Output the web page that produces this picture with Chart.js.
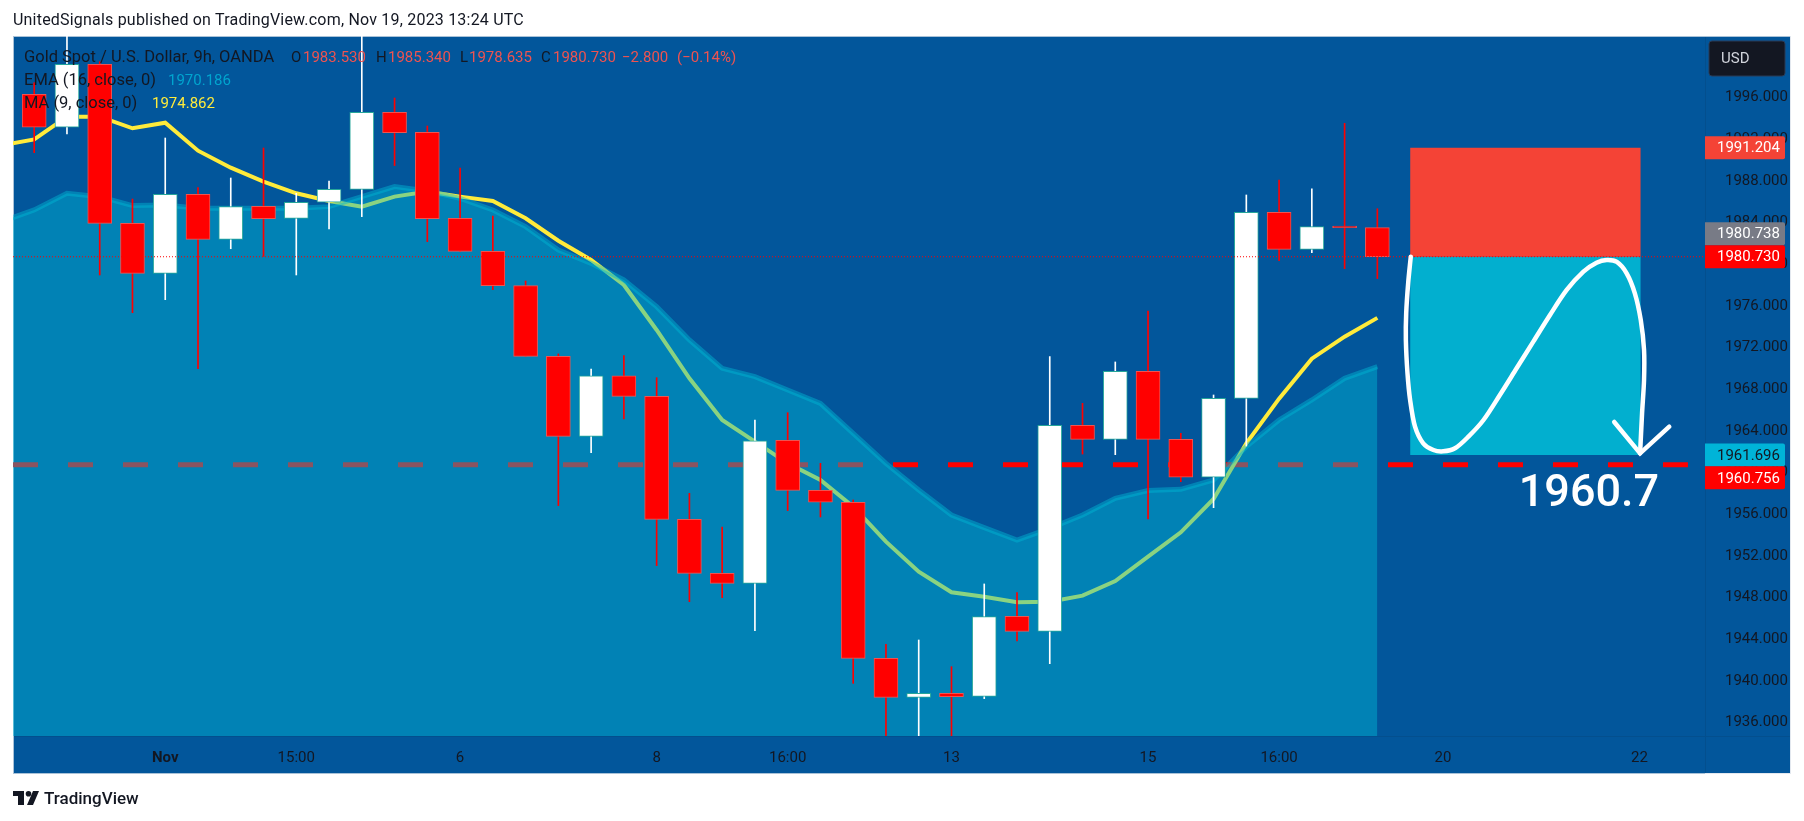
<!DOCTYPE html>
<html>
<head>
<meta charset="utf-8">
<title>Gold Spot / U.S. Dollar</title>
<script src="https://cdn.jsdelivr.net/npm/chart.js@4/dist/chart.umd.js"></script>
<style>
  body { margin: 0; background: #fff; width: 1804px; height: 821px; overflow: hidden; position: relative; font-family: Roboto, sans-serif; color: #131722; }
  canvas { position: absolute; left: 0; top: 0; }
  #head { position: absolute; left: 13px; top: 11px; font-size: 16px; letter-spacing: 0.2px; line-height: 18px; white-space: nowrap; }
  #foot { position: absolute; left: 13px; top: 789px; display: flex; align-items: center; }
  #foot span { font-size: 17px; font-weight: 500; margin-left: 5px; line-height: 18px; }
</style>
</head>
<body>
<canvas id="c" width="1804" height="821"></canvas>
<div id="head">UnitedSignals published on TradingView.com, Nov 19, 2023 13:24 UTC</div>
<div id="foot">
  <svg width="26" height="14" viewBox="0 0 26 14"><path d="M0 0h11v14H5V5H0z M26 0l-6 14h-6l6-14z" fill="#131722"/><circle cx="15.5" cy="2.8" r="2.8" fill="#131722"/></svg>
  <span>TradingView</span>
</div>
<script>
// ================= DATA =================
const opens  = [1996.32,1993.16,1999.20,1983.94,1979.14,1986.72,1982.40,1985.57,1984.42,1985.96,1987.20,1994.60,1992.68,1984.42,1981.25,1977.96,1971.17,1963.49,1969.31,1967.33,1955.52,1950.34,1949.38,1963.11,1958.31,1957.16,1942.18,1938.43,1938.82,1938.53,1946.21,1944.77,1964.55,1963.20,1969.73,1963.20,1959.56,1967.14,1985.00,1981.44,1983.68,1983.53];
const highs  = [1997.44,2003,1999.46,1986.27,1992.13,1987.36,1988.29,1991.17,1986.82,1988.00,2003,1995.97,1993.28,1989.25,1984.64,1978.40,1971.40,1969.95,1971.24,1969.12,1958.02,1954.79,1965.06,1965.76,1960.90,1957.38,1943.52,1943.94,1941.38,1949.32,1948.48,1971.14,1966.66,1970.63,1975.52,1963.78,1967.46,1986.66,1988.10,1987.24,1993.54,1985.34];
const lows   = [1990.72,1992.52,1978.98,1975.36,1976.61,1969.99,1981.50,1980.77,1978.98,1983.39,1984.58,1989.48,1982.18,1981.25,1977.57,1971.17,1956.84,1961.92,1965.16,1951.08,1947.62,1948.00,1944.83,1956.36,1955.75,1939.78,1934,1934,1934,1938.31,1943.84,1941.67,1961.79,1961.73,1955.56,1959.14,1956.64,1962.56,1980.36,1981.12,1979.59,1978.635];
const closes = [1993.16,1999.20,1983.94,1979.14,1986.72,1982.40,1985.54,1984.39,1985.96,1987.20,1994.60,1992.64,1984.39,1981.25,1977.96,1971.17,1963.49,1969.31,1967.33,1955.52,1950.34,1949.38,1963.07,1958.31,1957.16,1942.18,1938.43,1938.82,1938.50,1946.18,1944.77,1964.55,1963.20,1969.73,1963.20,1959.56,1967.14,1985.00,1981.44,1983.62,1983.52,1980.73];

// both averages start one bar before the first candle
const maValues  = [1991.43,1992.00,1994.18,1994.18,1993.06,1993.60,1990.91,1989.28,1987.94,1986.82,1986.08,1985.54,1986.50,1986.98,1986.50,1986.08,1984.42,1982.27,1980.42,1978.02,1973.70,1969.06,1965.06,1962.98,1960.90,1959.30,1956.74,1953.38,1950.50,1948.52,1948.10,1947.56,1947.62,1948.20,1949.60,1951.94,1954.28,1957.48,1962.82,1967.11,1970.95,1973.06,1974.862];
const emaValues = [1984.10,1985.22,1986.82,1986.50,1985.64,1985.70,1985.38,1985.38,1985.38,1985.38,1985.54,1986.50,1987.46,1987.04,1986.34,1985.22,1983.62,1981.38,1980.10,1978.50,1975.94,1972.74,1970.02,1969.22,1967.94,1966.66,1963.78,1960.90,1958.34,1955.94,1954.72,1953.54,1954.66,1955.94,1957.54,1958.28,1958.40,1959.30,1962.50,1965.06,1966.98,1969.06,1970.186];

const yTicks = [1996,1992,1988,1984,1980,1976,1972,1968,1964,1960,1956,1952,1948,1944,1940,1936];
const xTickBars = [4,8,13,19,23,28,34,38,43,49];
const xTickLabels = ['Nov','15:00','6','8','16:00','13','15','16:00','20','22'];

const stopPrice = 1991.204, entryPrice = 1980.73, targetPrice = 1961.696, supportPrice = 1960.756, lastBid = 1980.738;
const toolStart = 42, toolEnd = 49.04, supportEnd = 50.48;

const curveX = [42.02,41.94,41.88,41.87,41.92,42.00,42.15,42.40,42.71,43.01,43.37,43.78,44.24,44.74,45.25,45.76,46.27,46.78,47.29,47.69,48.00,48.31,48.61,48.86,49.04,49.14,49.14,49.08,49.02];
const curveY = [1980.74,1978.18,1975.30,1972.74,1969.54,1966.98,1964.42,1962.82,1962.18,1962.05,1962.34,1963.46,1965.06,1967.46,1970.02,1972.58,1975.14,1977.54,1979.30,1980.16,1980.42,1980.23,1979.14,1977.22,1974.66,1971.78,1968.90,1965.70,1961.86];
const arrowX = [48.23,49.02,49.91];
const arrowY = [1964.87,1961.86,1964.42];

const noteText = '1960.7', noteBar = 47.46, notePrice = 1957.92;

const legendTitle = ['Gold Spot / U.S. Dollar, 9h, OANDA','O','1983.530','H','1985.340','L','1978.635','C','1980.730','−2.800','(−0.14%)'];
const legendEma = ['EMA (16, close, 0)','1970.186'];
const legendMa = ['MA (9, close, 0)','1974.862'];

// ================= LAYOUT =================
const left = 13, top_ = 36, right = 1705, bottom = 736, panelRight = 1790, panelBottom = 773;
const barPx = 32.76, firstBarPx = 34.2, pxPerUnit = 10.417, y1936 = 722.7;
const font = 'Roboto, sans-serif';
const ink = '#131722', bg = '#02569b';
const cyan = 'rgba(0,184,212,0.46)';

const xy = (xs, ys) => xs.map((x, i) => ({ x, y: ys[i] }));
const flat = (v, a, b) => [{ x: a, y: v }, { x: b, y: v }];
const isUp = i => closes[i] >= opens[i];
const xMin = (left - firstBarPx) / barPx, xMax = (right - firstBarPx) / barPx;
const yMax = 1936 + (y1936 - top_) / pxPerUnit, yMin = 1936 + (y1936 - bottom) / pxPerUnit;

const lineBase = { type: 'line', pointRadius: 0, tension: 0, fill: false };

const panelPlugin = {
  id: 'panel',
  beforeDraw(chart) {
    const c = chart.ctx;
    c.save();
    c.fillStyle = bg;
    c.fillRect(left, top_, panelRight - left, panelBottom - top_);
    c.fillStyle = '#a9c2d8';
    c.fillRect(left, top_, panelRight - left, 1);
    c.fillRect(left, top_, 1, panelBottom - top_);
    c.fillRect(left, panelBottom, right - left, 1);
    c.fillStyle = '#e3e8ef';
    c.fillRect(panelRight, top_, 1, panelBottom - top_ + 1);
    c.fillRect(right, panelBottom, panelRight - right, 1);
    c.fillStyle = '#034f8e';
    c.fillRect(right, top_ + 1, 1, panelBottom - top_ - 1);
    c.fillRect(left + 1, bottom, panelRight - left - 1, 1);
    c.restore();
  }
};

const overlayPlugin = {
  id: 'overlay',
  afterDraw(chart) {
    const c = chart.ctx, ys = chart.scales.y, xs = chart.scales.x;
    c.save();
    c.textBaseline = 'middle';
    c.textAlign = 'left';

    // legend
    const red = '#ef5350';
    const title = [[24, ink], [291, ink], [303, red], [376, ink], [388, red], [460, ink], [469, red], [541, ink], [553, red], [622, red], [677, red]];
    legendTitle.forEach((t, i) => {
      c.font = (i === 0 ? '16.5px ' : '15px ') + font;
      c.fillStyle = title[i][1];
      c.fillText(t, title[i][0], 58);
    });
    c.font = '16.5px ' + font;
    c.fillStyle = ink; c.fillText(legendEma[0], 24, 81);
    c.fillStyle = ink; c.fillText(legendMa[0], 24, 104);
    c.font = '15px ' + font;
    c.fillStyle = '#00a5cf'; c.fillText(legendEma[1], 168, 81);
    c.fillStyle = '#ffeb3b'; c.fillText(legendMa[1], 152, 104);

    // note on the chart
    c.font = '500 45px ' + font;
    c.fillStyle = '#fff';
    c.textAlign = 'center';
    c.fillText(noteText, xs.getPixelForValue(noteBar), ys.getPixelForValue(notePrice));
    c.textAlign = 'left';

    // price labels, two of them pushed apart like the original
    const badges = [
      [stopPrice, '#f44336', '#fff', 0],
      [lastBid, '#787b86', '#fff', -23],
      [entryPrice, '#ff0000', '#fff', 0],
      [targetPrice, '#00b4d8', ink, 0],
      [supportPrice, '#ff0000', '#fff', 13]
    ];
    c.font = '15px ' + font;
    badges.forEach(b => {
      const y = ys.getPixelForValue(b[0]) + b[3];
      c.fillStyle = b[1];
      c.beginPath();
      c.roundRect(right, y - 11.5, 80, 23, [0, 2, 2, 0]);
      c.fill();
      c.fillStyle = b[2];
      c.fillText(b[0].toFixed(3), 1717, y + 1);
    });

    // currency box
    c.fillStyle = ink;
    c.strokeStyle = '#2a3a55';
    c.beginPath();
    c.roundRect(1709, 41, 76, 35, 3);
    c.fill();
    c.stroke();
    c.fillStyle = '#d1d4dc';
    c.fillText('USD', 1721, 59);
    c.restore();
  }
};

new Chart(document.getElementById('c'), {
  type: 'bar',
  data: {
    datasets: [
      { ...lineBase, data: flat(supportPrice, xMin, supportEnd), borderColor: '#ff0000', borderWidth: 5, borderDash: [25, 30], order: 10 },
      { ...lineBase, data: maValues.map((y, i) => ({ x: i - 1, y })), borderColor: '#ffeb3b', borderWidth: 4, order: 9 },
      { ...lineBase, data: emaValues.map((y, i) => ({ x: i - 1, y })), borderColor: cyan, backgroundColor: cyan, borderWidth: 5, fill: 'start', order: 8 },
      { ...lineBase, data: flat(stopPrice, toolStart, toolEnd), borderWidth: 0, backgroundColor: '#f44336', fill: { value: entryPrice }, order: 7 },
      { ...lineBase, data: flat(targetPrice, toolStart, toolEnd), borderWidth: 0, backgroundColor: '#02afcf', fill: { value: entryPrice }, order: 7 },
      { data: highs.map((h, i) => ({ x: i, y: [lows[i], h] })), barThickness: 1, grouped: false, borderWidth: 0,
        backgroundColor: c => isUp(c.dataIndex) ? '#ffffff' : '#ff0000', order: 5 },
      { data: opens.map((o, i) => ({ x: i, y: [o, closes[i]] })), barThickness: 24, grouped: false, borderWidth: 1, borderSkipped: false,
        backgroundColor: c => isUp(c.dataIndex) ? '#ffffff' : '#ff0000',
        borderColor: c => isUp(c.dataIndex) ? '#26a69a' : '#ef5350', order: 4 },
      { ...lineBase, data: flat(entryPrice, xMin, xMax), borderColor: '#ff0000', borderWidth: 1, borderDash: [1, 2], order: 2 },
      { ...lineBase, data: xy(curveX, curveY), tension: 0.3, borderColor: '#ffffff', borderWidth: 4.5, borderCapStyle: 'round', borderJoinStyle: 'round', order: 1 },
      { ...lineBase, data: xy(arrowX, arrowY), borderColor: '#ffffff', borderWidth: 4.5, borderCapStyle: 'round', order: 1 }
    ]
  },
  options: {
    responsive: false,
    animation: false,
    events: [],
    layout: { padding: { left, top: top_, right: 1804 - panelRight, bottom: 821 - panelBottom } },
    plugins: { legend: { display: false }, tooltip: { enabled: false } },
    scales: {
      x: {
        type: 'linear', offset: false, min: xMin, max: xMax,
        grid: { display: false }, border: { display: false },
        afterFit: s => { s.height = panelBottom - bottom; },
        afterBuildTicks: s => { s.ticks = xTickBars.map(value => ({ value })); },
        ticks: {
          autoSkip: false, maxRotation: 0, padding: 5, color: ink,
          font: c => ({ family: font, size: 15, weight: c.tick && xTickLabels[xTickBars.indexOf(c.tick.value)] === 'Nov' ? '700' : '400' }),
          callback: v => xTickLabels[xTickBars.indexOf(v)]
        }
      },
      y: {
        position: 'right', min: yMin, max: yMax,
        grid: { display: false }, border: { display: false },
        afterFit: s => { s.width = panelRight - right; },
        afterBuildTicks: s => { s.ticks = yTicks.map(value => ({ value })); },
        ticks: { padding: 12, color: ink, font: { family: font, size: 15 }, callback: v => v.toFixed(3) }
      }
    }
  },
  plugins: [panelPlugin, overlayPlugin]
});
</script>
</body>
</html>
